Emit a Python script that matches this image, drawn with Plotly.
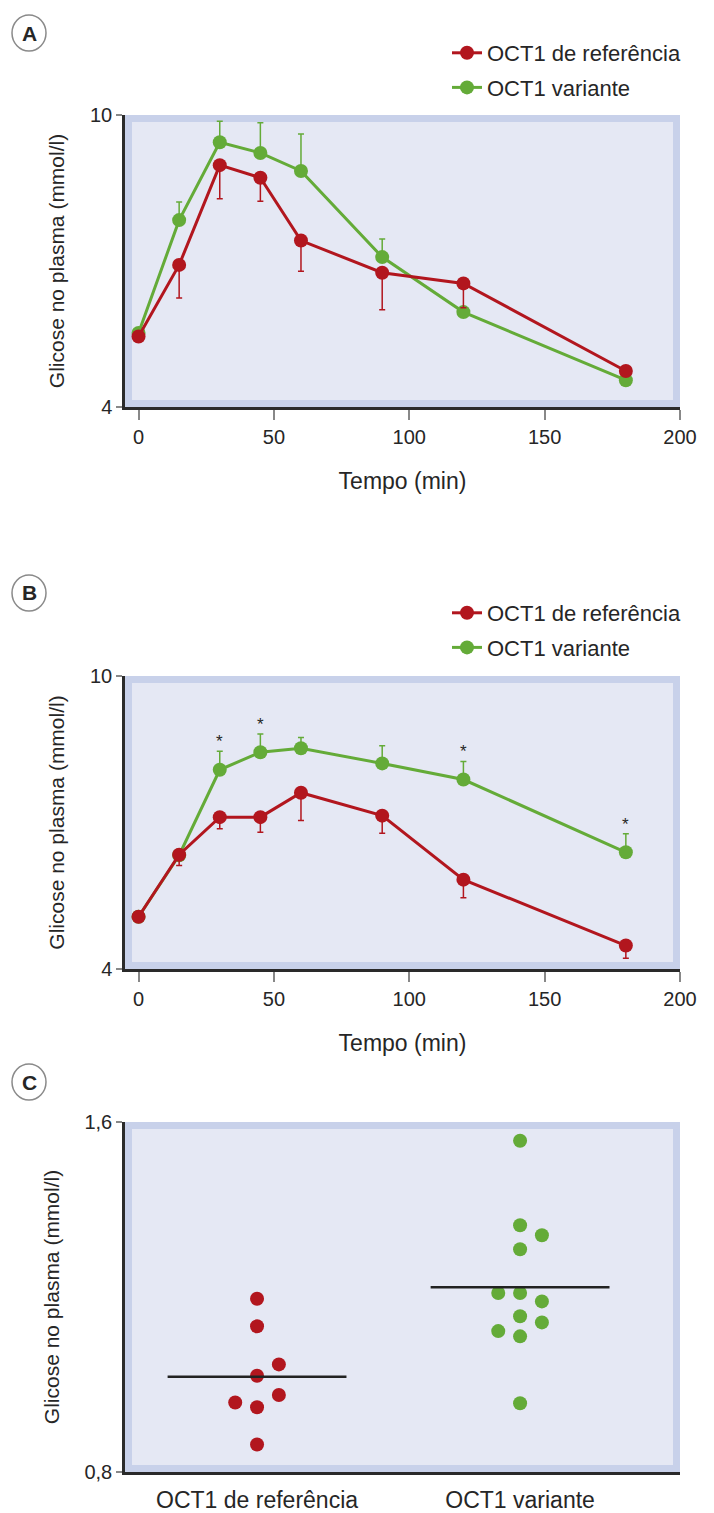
import numpy as np
import plotly.graph_objects as go

# ---------------- data ----------------
tempo = [0, 15, 30, 45, 60, 90, 120, 180]

# Panel A
a_ref = [5.45, 6.92, 8.97, 8.71, 7.42, 6.76, 6.54, 4.74]
a_ref_err = [0.05, 0.68, 0.69, 0.48, 0.63, 0.76, 0.50, 0.08]
a_var = [5.52, 7.84, 9.44, 9.22, 8.85, 7.08, 5.95, 4.55]
a_var_err = [0.05, 0.37, 0.43, 0.62, 0.76, 0.37, 0.06, 0.08]

# Panel B
b_ref = [5.07, 6.34, 7.11, 7.11, 7.61, 7.14, 5.83, 4.48]
b_ref_err = [0.03, 0.22, 0.24, 0.31, 0.57, 0.36, 0.37, 0.26]
b_var = [5.07, 6.33, 8.08, 8.44, 8.52, 8.21, 7.88, 6.39]
b_var_err = [0.03, 0.05, 0.38, 0.37, 0.22, 0.36, 0.37, 0.38]
b_signif = [30, 45, 120, 180]

# Panel C
categorias = ["OCT1 de referência", "OCT1 variante"]
c_ref = [1.196, 1.133, 1.046, 1.020, 0.976, 0.959, 0.948, 0.863]
c_ref_slot = [0, 0, 1, 0, 1, -1, 0, 0]
c_var = [1.557, 1.364, 1.341, 1.309, 1.209, 1.209, 1.190, 1.156, 1.142, 1.122, 1.110, 0.957]
c_var_slot = [0, 0, 1, 0, -1, 0, 1, 0, 1, -1, 0, 0]

nomes = ["OCT1 de referência", "OCT1 variante"]

# ---------------- styles ----------------
RED = "#b2161e"
GREEN = "#64ab38"
BORDER = "#c8d1ea"
INNER = "#e5e8f4"
FONT = "Liberation Sans, Arial, sans-serif"
TXT = "#262626"

W, H = 714, 1513
OFF = 8  # page offset of the plot div


def px_x(p):
    return (p - OFF) / W


def px_y(p):
    return 1 - (p - OFF) / H


XDOM = [px_x(125), px_x(680)]
DOM_A = [px_y(407), px_y(115)]
DOM_B = [px_y(969), px_y(676)]
DOM_C = [px_y(1472), px_y(1122)]

fig = go.Figure()


def line_trace(x, y, err, color, name, xa, ya, legend, up, rank, show):
    ey = dict(type="data", symmetric=False,
              array=err if up else [0] * len(err),
              arrayminus=[0] * len(err) if up else err,
              color=color, thickness=1.5, width=3)
    return go.Scatter(x=x, y=y, mode="lines+markers", name=name,
                      line=dict(color=color, width=3),
                      marker=dict(color=color, size=14),
                      error_y=ey, xaxis=xa, yaxis=ya, legend=legend,
                      legendgroup=legend + name, legendrank=rank,
                      showlegend=show)


# Panel A (green first, red on top)
fig.add_trace(line_trace(tempo, a_var, a_var_err, GREEN, nomes[1], "x", "y", "legend", True, 2, True))
fig.add_trace(line_trace(tempo, a_ref, a_ref_err, RED, nomes[0], "x", "y", "legend", False, 1, True))
# Panel B
fig.add_trace(line_trace(tempo, b_var, b_var_err, GREEN, nomes[1], "x2", "y2", "legend2", True, 2, True))
fig.add_trace(line_trace(tempo, b_ref, b_ref_err, RED, nomes[0], "x2", "y2", "legend2", False, 1, True))

# asterisks in B
for t in b_signif:
    i = tempo.index(t)
    fig.add_annotation(x=t, y=b_var[i] + b_var_err[i], xref="x2", yref="y2",
                       text="*", showarrow=False, xanchor="center", yanchor="bottom", yshift=-2,
                       font=dict(size=17, color=TXT, family=FONT))

# Panel C
JIT = 0.083
for idx, (vals, slots, col) in enumerate([(c_ref, c_ref_slot, RED), (c_var, c_var_slot, GREEN)]):
    xs = [idx + s * JIT for s in slots]
    fig.add_trace(go.Scatter(x=xs, y=vals, mode="markers",
                             marker=dict(color=col, size=14),
                             xaxis="x3", yaxis="y3", showlegend=False))
    m = float(np.mean(vals))
    fig.add_trace(go.Scatter(x=[idx - 0.34, idx + 0.34], y=[m, m], mode="lines",
                             line=dict(color="#222222", width=2.5),
                             xaxis="x3", yaxis="y3", showlegend=False))

axis_common = dict(showline=True, linecolor="#2a2a2a", linewidth=2.5,
                   showgrid=False, zeroline=False, ticks="outside",
                   tickcolor="#888888", tickwidth=1.5, ticklen=6,
                   tickfont=dict(size=20, color=TXT, family=FONT),
                   mirror=False, automargin=False)
xaxis_common = {**axis_common, "ticklen": 10}

ytitle = dict(text="Glicose no plasma (mmol/l)", font=dict(size=21, color=TXT, family=FONT), standoff=20)
xtitle = dict(text="Tempo (min)", font=dict(size=23, color=TXT, family=FONT), standoff=27)
legfont = dict(size=22, color=TXT, family=FONT)

fig.update_layout(
    width=W, height=H,
    margin=dict(l=0, r=0, t=0, b=0, autoexpand=False),
    paper_bgcolor="white",
    plot_bgcolor=BORDER,
    font=dict(family=FONT, color=TXT),
    xaxis=dict(domain=XDOM, anchor="y", range=[-5, 200], tickvals=[0, 50, 100, 150, 200],
               title=xtitle, **xaxis_common),
    yaxis=dict(domain=DOM_A, anchor="x", range=[4, 10], tickvals=[4, 10],
               title=ytitle, **axis_common),
    xaxis2=dict(domain=XDOM, anchor="y2", range=[-5, 200], tickvals=[0, 50, 100, 150, 200],
                title=xtitle, **xaxis_common),
    yaxis2=dict(domain=DOM_B, anchor="x2", range=[4, 10], tickvals=[4, 10],
                title=ytitle, **axis_common),
    xaxis3=dict(domain=XDOM, anchor="y3", range=[-0.502, 1.608], tickvals=[0, 1],
                ticktext=categorias, **{**axis_common, "ticks": "", "tickfont": dict(size=23, color=TXT, family=FONT)},
                ticklabelstandoff=6),
    yaxis3=dict(domain=DOM_C, anchor="x3", range=[0.8, 1.6], tickvals=[0.8, 1.6],
                ticktext=["0,8", "1,6"], title=ytitle, **axis_common),
    legend=dict(x=px_x(447), y=px_y(32), xanchor="left", yanchor="top",
                font=legfont, tracegroupgap=3,
                bgcolor="rgba(0,0,0,0)", itemwidth=30),
    legend2=dict(x=px_x(447), y=px_y(592), xanchor="left", yanchor="top",
                 font=legfont, tracegroupgap=3,
                 bgcolor="rgba(0,0,0,0)", itemwidth=30),
)

# inner background panels
for xa, ya, wpx, hpx in [("x", "y", 555, 292), ("x2", "y2", 555, 293), ("x3", "y3", 555, 350)]:
    ix, iy = 7 / wpx, 7 / hpx
    fig.add_shape(type="rect", xref=f"{xa} domain", yref=f"{ya} domain",
                  x0=ix, x1=1 - ix, y0=iy, y1=1 - iy,
                  fillcolor=INNER, line=dict(width=0), layer="below")

# circled panel letters
for letter, cy in [("A", 33), ("B", 593), ("C", 1082)]:
    cx, rx, ry = 29, 17, 18
    fig.add_shape(type="circle", xref="paper", yref="paper",
                  x0=px_x(cx - rx), x1=px_x(cx + rx), y0=px_y(cy + ry), y1=px_y(cy - ry),
                  line=dict(color="#8a8a8a", width=1.5))
    fig.add_annotation(x=px_x(cx), y=px_y(cy), xref="paper", yref="paper",
                       text=f"<b>{letter}</b>", showarrow=False,
                       xanchor="center", yanchor="middle",
                       font=dict(size=21, color=TXT, family=FONT))

fig.write_html("out.html")
